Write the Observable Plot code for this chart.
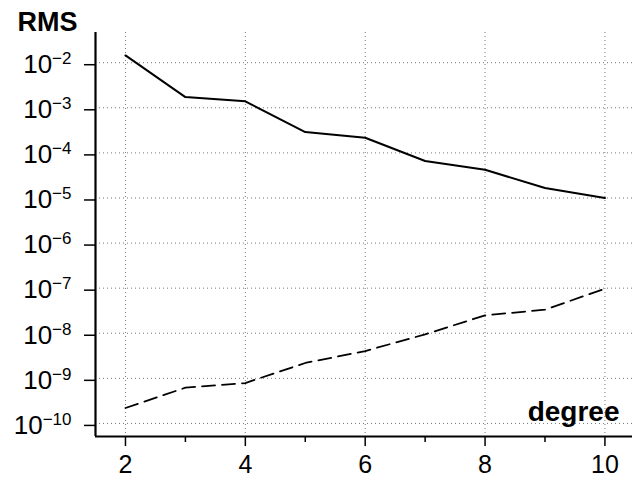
<!DOCTYPE html>
<html>
<head>
<meta charset="utf-8">
<script src="https://cdn.jsdelivr.net/npm/d3@7"></script>
<script src="https://cdn.jsdelivr.net/npm/@observablehq/plot@0.6"></script>
<style>
  html, body { margin: 0; padding: 0; background: #fff; }
</style>
</head>
<body>
<div id="chart"></div>
<script>
const degree = [2, 3, 4, 5, 6, 7, 8, 9, 10];
const rmsSolid = [1.45e-2, 1.73e-3, 1.39e-3, 2.89e-4, 2.17e-4, 6.6e-5, 4.24e-5, 1.66e-5, 1.0e-5];
const rmsDashed = [2.2e-10, 6.2e-10, 7.87e-10, 2.19e-9, 4.03e-9, 9.46e-9, 2.49e-8, 3.33e-8, 9.75e-8];
const yTicks = [1e-2, 1e-3, 1e-4, 1e-5, 1e-6, 1e-7, 1e-8, 1e-9, 1e-10];
const xTicks = [2, 4, 6, 8, 10];
const xMinorTicks = [3, 5, 7, 9];
const yLabel = "RMS";
const xLabel = "degree";

const solid = degree.map((d, i) => ({degree: d, rms: rmsSolid[i]}));
const dashed = degree.map((d, i) => ({degree: d, rms: rmsDashed[i]}));

const xDomain = [1.5, 10.46];
const yDomain = [Math.pow(10, -10.29), Math.pow(10, -1.33)];
const font = "'Liberation Sans', Arial, Helvetica, sans-serif";

const plot = Plot.plot({
  width: 632,
  height: 480,
  marginLeft: 95,
  marginRight: 0,
  marginTop: 32,
  marginBottom: 44,
  style: {fontFamily: font, fontSize: "26px", color: "#000", background: "#fff"},
  x: {domain: xDomain},
  y: {type: "log", domain: yDomain},
  marks: [
    Plot.gridY(yTicks, {stroke: "#777", strokeOpacity: 1, strokeWidth: 1, strokeDasharray: "1,3"}),
    Plot.gridX(xTicks, {stroke: "#777", strokeOpacity: 1, strokeWidth: 1, strokeDasharray: "1,3"}),
    Plot.axisY(yTicks, {
      tickSize: 11, tickPadding: 13, fontSize: 26, strokeWidth: 1.5,
      tickFormat: d => String(Math.round(Math.log10(d))).replace("-", "\u2212"),
      label: null, dy: 2
    }),
    Plot.axisX(xTicks, {tickSize: 10, tickPadding: 9, fontSize: 25, strokeWidth: 1.5, label: null}),
    Plot.axisX(xMinorTicks, {tickSize: 6, strokeWidth: 1.5, text: null, label: null}),
    Plot.ruleX([xDomain[0]], {stroke: "#000", strokeWidth: 2.2}),
    Plot.ruleY([yDomain[0]], {stroke: "#000", strokeWidth: 2.2}),
    Plot.line(solid, {x: "degree", y: "rms", stroke: "#000", strokeWidth: 2}),
    Plot.line(dashed, {x: "degree", y: "rms", stroke: "#000", strokeWidth: 1.8, strokeDasharray: "13,7"}),
    Plot.text([yLabel], {frameAnchor: "top-left", text: d => d, dx: -48, dy: -10, fontSize: 27, fontWeight: "bold", textAnchor: "middle", lineAnchor: "middle"}),
    Plot.text([xLabel], {frameAnchor: "bottom-right", text: d => d, dx: -13, dy: -24, fontSize: 28, fontWeight: "bold", textAnchor: "end", lineAnchor: "middle"})
  ]
});

// Turn exponent tick labels into 10^n with a real superscript
plot.querySelectorAll('[aria-label="y-axis tick label"] text').forEach(t => {
  const exp = t.textContent;
  t.textContent = "";
  const base = document.createElementNS("http://www.w3.org/2000/svg", "tspan");
  base.textContent = "10";
  const sup = document.createElementNS("http://www.w3.org/2000/svg", "tspan");
  sup.textContent = exp;
  sup.setAttribute("font-size", "17");
  sup.setAttribute("dy", "-9");
  t.appendChild(base);
  t.appendChild(sup);
});

document.getElementById("chart").appendChild(plot);
</script>
</body>
</html>
